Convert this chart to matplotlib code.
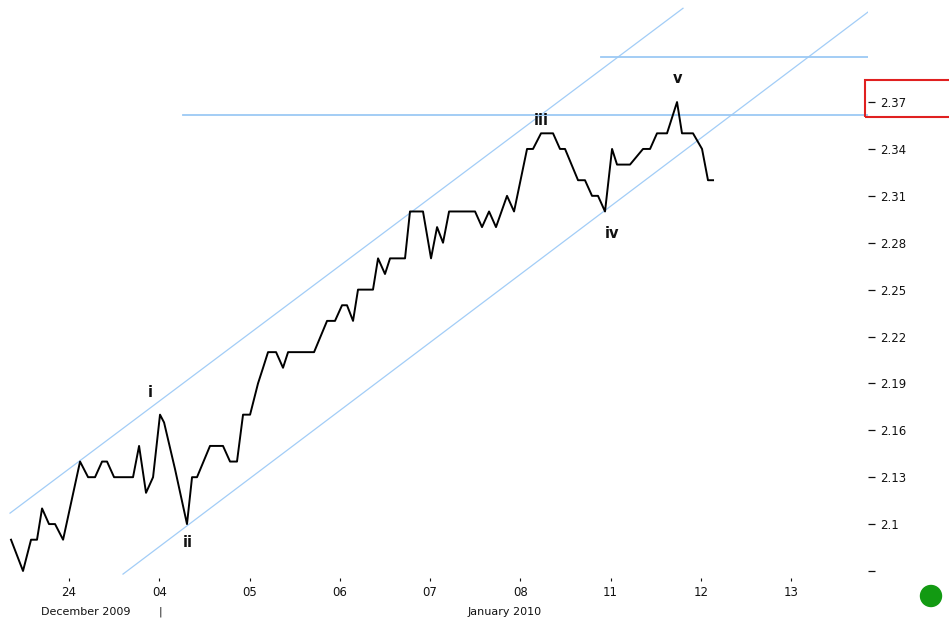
"""Elliott wave count on a price chart, Dec 2009 - Jan 2010"""

import matplotlib
matplotlib.use("Agg")
import matplotlib.pyplot as plt
from matplotlib.patches import Rectangle, Ellipse

# x in trading-day units (0 = "24", 1 = "04", ...), y = price
price_x = [-0.643, -0.510, -0.421, -0.355, -0.299, -0.222, -0.155, -0.066, 0.122, 0.211,
           0.288, 0.366, 0.421, 0.499, 0.709, 0.776, 0.853, 0.931, 1.008, 1.053,
           1.175, 1.307, 1.363, 1.418, 1.562, 1.706, 1.784, 1.861, 1.928, 2.006,
           2.094, 2.150, 2.205, 2.294, 2.371, 2.427, 2.715, 2.859, 2.947, 3.025,
           3.080, 3.147, 3.202, 3.368, 3.424, 3.501, 3.557, 3.723, 3.778, 3.922,
           4.011, 4.078, 4.144, 4.211, 4.499, 4.576, 4.654, 4.731, 4.853, 4.931,
           5.075, 5.141, 5.230, 5.363, 5.440, 5.496, 5.640, 5.717, 5.795, 5.861,
           5.939, 6.017, 6.072, 6.216, 6.360, 6.438, 6.515, 6.626, 6.737, 6.792,
           6.914, 7.014, 7.080, 7.136]
price_y = [2.09, 2.07, 2.09, 2.09, 2.11, 2.10, 2.10, 2.09, 2.14, 2.13,
           2.13, 2.14, 2.14, 2.13, 2.13, 2.15, 2.12, 2.13, 2.17, 2.165,
           2.135, 2.10, 2.13, 2.13, 2.15, 2.15, 2.14, 2.14, 2.17, 2.17,
           2.19, 2.20, 2.21, 2.21, 2.20, 2.21, 2.21, 2.23, 2.23, 2.24,
           2.24, 2.23, 2.25, 2.25, 2.27, 2.26, 2.27, 2.27, 2.30, 2.30,
           2.27, 2.29, 2.28, 2.30, 2.30, 2.29, 2.30, 2.29, 2.31, 2.30,
           2.34, 2.34, 2.35, 2.35, 2.34, 2.34, 2.32, 2.32, 2.31, 2.31,
           2.30, 2.34, 2.33, 2.33, 2.34, 2.34, 2.35, 2.35, 2.37, 2.35,
           2.35, 2.34, 2.32, 2.32]

day_labels = ["24", "04", "05", "06", "07", "08", "11", "12", "13"]
y_ticks = [2.07, 2.10, 2.13, 2.16, 2.19, 2.22, 2.25, 2.28, 2.31, 2.34, 2.37]

# trend channel and horizontal levels
upper_x, upper_y = [-0.654, 6.803], [2.107, 2.430]
lower_x, lower_y = [0.598, 8.853], [2.068, 2.4276]
level_1 = ([1.263, 8.853], 2.362)
level_2 = ([5.895, 8.853], 2.399)

wave_labels = ["i", "ii", "iii", "iv", "v"]
wave_x = [0.898, 1.319, 5.230, 6.017, 6.748]
wave_y = [2.1845, 2.088, 2.358, 2.286, 2.385]


def main():
    fig = plt.figure(figsize=(9.49, 6.26), dpi=100)
    ax = fig.add_axes([0.0, 1 - 578 / 626, 868 / 949, 578 / 626])
    ax.set_xlim(-0.765, 8.853)
    ax.set_ylim(2.0655, 2.4353)

    chan = "#a2cdf7"
    ax.plot(upper_x, upper_y, color=chan, lw=0.9)
    ax.plot(lower_x, lower_y, color=chan, lw=0.9)
    ax.plot(level_1[0], [level_1[1]] * 2, color="#9cc9f4", lw=1.3)
    ax.plot(level_2[0], [level_2[1]] * 2, color="#9cc9f4", lw=1.3)

    ax.plot(price_x, price_y, color="black", lw=1.4)

    for lab, x, y in zip(wave_labels, wave_x, wave_y):
        ax.text(x, y, lab, ha="center", va="center", fontsize=10.5,
                fontweight="bold", color="#111111")

    for s in ax.spines.values():
        s.set_visible(False)

    ax.set_xticks(range(len(day_labels)))
    ax.set_xticklabels(day_labels)
    ax.tick_params(axis="x", direction="out", length=2.5, width=0.8,
                   pad=3, labelsize=8.5, colors="#111111")

    ax.yaxis.tick_right()
    ax.set_yticks(y_ticks)
    ax.set_yticklabels(["" if v == 2.07 else "%g" % v for v in y_ticks])
    ax.tick_params(axis="y", direction="out", length=5, width=0.9,
                   pad=4, labelsize=8.5, colors="#111111")

    tr = ax.get_xaxis_transform()
    ax.text(0.18, -0.058, "December 2009", transform=tr, ha="center",
            va="center", fontsize=8, color="#111111")
    ax.text(1.01, -0.058, "|", transform=tr, ha="center", va="center",
            fontsize=8, color="#111111")
    ax.text(4.83, -0.058, "January 2010", transform=tr, ha="center",
            va="center", fontsize=8, color="#111111")

    fig.add_artist(Rectangle((865 / 949, 1 - 117 / 626), 0.2, 37 / 626,
                             transform=fig.transFigure, fill=False,
                             edgecolor="#e02020", lw=1.5))
    fig.add_artist(Ellipse((931 / 949, 1 - 596 / 626), 21 / 949, 21 / 626,
                           transform=fig.transFigure, color="#129a12"))

    fig.savefig("out.png", dpi=100)


main()
